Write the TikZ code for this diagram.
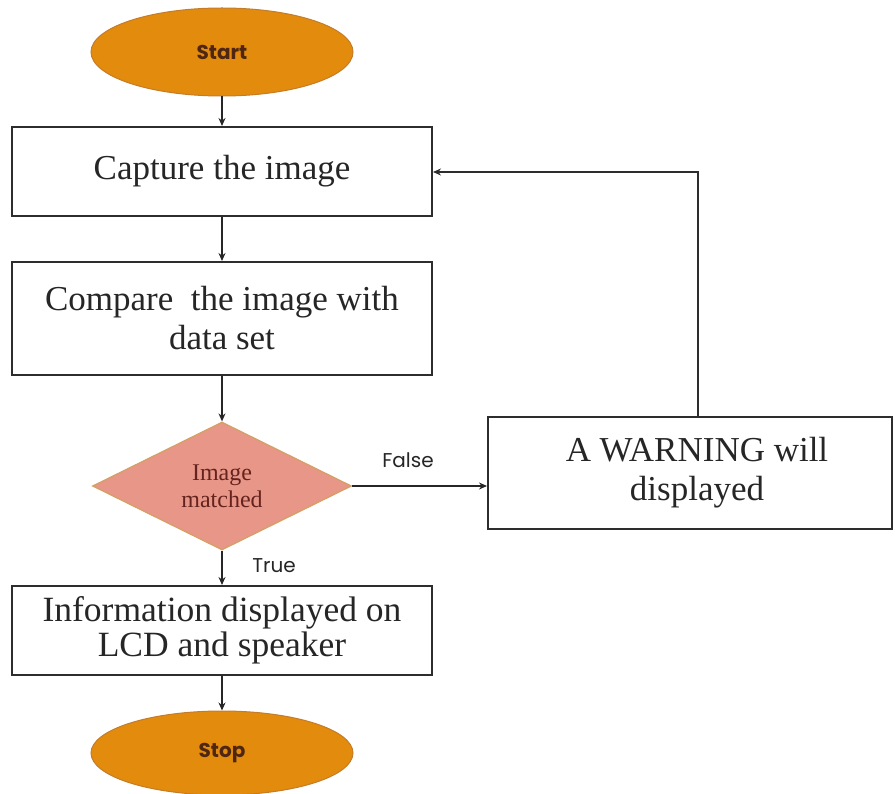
\documentclass[tikz,border=0pt]{standalone}
\usepackage{fontspec}
\setmainfont{Liberation Serif}
\newfontfamily\gothic{Poppins}
\usetikzlibrary{shapes.geometric,arrows.meta}
\definecolor{orangefill}{RGB}{226,139,12}
\definecolor{orangeline}{RGB}{196,124,40}
\definecolor{orangetext}{RGB}{78,38,18}
\definecolor{pinkfill}{RGB}{232,150,135}
\definecolor{pinkline}{RGB}{212,160,100}
\definecolor{pinktext}{RGB}{100,35,30}
\definecolor{boxline}{RGB}{45,45,45}
\tikzset{
  terminal/.style={ellipse, draw=orangeline, line width=1pt, fill=orangefill, inner sep=0pt,
    text=orangetext, font=\gothic\bfseries\fontsize{20}{24}\selectfont},
  procbox/.style={rectangle, draw=boxline, line width=2pt, fill=white, inner sep=0pt,
    align=center, text=black!85},
  decision/.style={diamond, draw=pinkline, line width=1.2pt, fill=pinkfill, inner sep=0pt,
    align=center, text=pinktext, font=\fontsize{24}{27}\selectfont},
  flow/.style={draw=black!85, line width=2.4pt, -{Stealth[length=8pt,width=7pt]}},
  feedback/.style={draw=boxline, line width=1.8pt, -{Stealth[length=8pt,width=7pt]}},
  lbl/.style={font=\gothic\fontsize{20}{24}\selectfont, text=black!85, inner sep=0pt}
}
\begin{document}
\begin{tikzpicture}[x=1pt,y=-1pt]
\useasboundingbox (0,0) rectangle (895,794);
\node[terminal, minimum width=262pt, minimum height=88pt] (start) at (222,52) {Start};
\node[procbox, minimum width=420pt, minimum height=89pt, font=\fontsize{35}{40}\selectfont] (capture) at (222,171.5) {Capture the image};
\node[procbox, minimum width=420pt, minimum height=113pt, font=\fontsize{35}{39}\selectfont] (compare) at (222,318.5) {Compare~ the image with\\data set};
\node[decision, minimum width=259pt, minimum height=128pt] (dec) at (222,486) {Image\\matched};
\node[procbox, minimum width=404pt, minimum height=112pt, font=\fontsize{35}{39}\selectfont] (warn) at (690,473) {\hspace*{14pt}A WARNING will\\\hspace*{14pt}displayed};
\node[procbox, minimum width=420pt, minimum height=89pt, font=\fontsize{35.5}{35}\selectfont] (info) at (222,630.5) {Information displayed on\\LCD and speaker};
\node[terminal, minimum width=262pt, minimum height=84pt] (stop) at (222,753) {Stop};
\coordinate (fb) at (698,172);
\draw[flow] (start.south) -- (capture.north);
\draw[flow] (capture.south) -- (compare.north);
\draw[flow] (compare.south) -- (dec.north);
\draw[flow] (dec.east) -- (warn.west |- dec.east);
\draw[flow] (dec.south) -- (info.north);
\draw[flow] (info.south) -- (stop.north);
\draw[feedback] (warn.north -| fb) -- (fb) -- (capture.east |- fb);
\node[lbl] (false) at (408,460) {False};
\node[lbl] (true) at (274,566) {True};
\end{tikzpicture}
\end{document}
